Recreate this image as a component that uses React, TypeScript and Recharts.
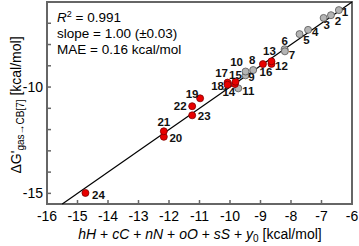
import {
  ReferenceArea,
  ReferenceLine,
  Scatter,
  ScatterChart,
  XAxis,
  YAxis,
} from "recharts";

// compound numbers, predicted (x) and measured (y) binding free energies
const compoundIds = [1, 2, 3, 4, 5, 6, 7, 8, 9, 10, 11, 12, 13, 14, 15, 16, 17, 18, 19, 20, 21, 22, 23, 24];
const predicted = [
  -6.43, -6.69, -6.93, -7.44, -7.72, -8.21, -8.2, -9.24, -9.49, -9.49, -9.73, -8.64,
  -8.64, -9.84, -9.82, -8.92, -10.08, -10.08, -10.98, -12.17, -12.17, -11.24, -11.24, -14.74,
];
const measured = [
  -6.38, -6.62, -6.75, -7.31, -7.51, -8.22, -8.32, -9.2, -9.45, -9.27, -10.06, -8.91,
  -8.79, -9.86, -9.75, -8.92, -9.79, -9.89, -10.53, -12.34, -12.08, -10.9, -11.33, -14.98,
];
const trainingSet = [1, 2, 3, 4, 5, 6, 7, 8, 9, 10, 11];

const fitX = [-15.5, -6];
const fitY = [-15.5, -6];

const xTicks = [-16, -15, -14, -13, -12, -11, -10, -9, -8, -7, -6];
const yTicks = [-15, -14, -13, -12, -11, -10, -9, -8, -7, -6];
const yLabeled = [-10, -15];

// where each number sits relative to its marker (px)
const labelOffset: Record<number, [number, number]> = {
  1: [6, 2], 2: [7, 6], 3: [3, 7], 4: [7, 2], 5: [7, 6], 6: [0, -8],
  7: [7, 4], 8: [-1, -10], 9: [6, 2], 10: [-9, -10], 11: [10, 3], 12: [10, 2],
  13: [-2, -10], 14: [-6, 8], 15: [0, -7], 16: [3, 8], 17: [-6, -10], 18: [-10, 1],
  19: [-8, -4], 20: [12, 1], 21: [0, -9], 22: [-12, 0], 23: [12, 1], 24: [13, 2],
};

const points = compoundIds.map((id, i) => ({ id, x: predicted[i], y: measured[i] }));
const grayPoints = points.filter((p) => trainingSet.includes(p.id));
const redPoints = points.filter((p) => !trainingSet.includes(p.id));

const FONT = "'Liberation Sans', Arial, sans-serif";
const FRAME = "#666";

function XTick({ x, y, payload }: any) {
  return (
    <g>
      <line x1={x} x2={x} y1={y} y2={y - 4} stroke={FRAME} strokeWidth={1.5} />
      <text x={x} y={y + 17} textAnchor="middle" fontSize={14} fontFamily={FONT} fill="#000">
        {payload.value}
      </text>
    </g>
  );
}

function YTick({ x, y, payload }: any) {
  return (
    <g>
      <line x1={x} x2={x + 4} y1={y} y2={y} stroke={FRAME} strokeWidth={1.5} />
      {yLabeled.includes(payload.value) && (
        <text x={x - 4} y={y + 5} textAnchor="end" fontSize={14} fontFamily={FONT} fill="#000">
          {payload.value}
        </text>
      )}
    </g>
  );
}

function marker(fill: string, stroke: string) {
  return (props: any) => {
    const { cx, cy, payload } = props;
    const [dx, dy] = labelOffset[payload.id] || [8, 0];
    return (
      <g>
        <circle cx={cx} cy={cy} r={3.5} fill={fill} stroke={stroke} strokeWidth={0.8} />
        <text
          x={cx + dx}
          y={cy + dy + 4}
          textAnchor="middle"
          fontSize={11.5}
          fontWeight="bold"
          fontFamily={FONT}
          fill="#111"
        >
          {payload.id}
        </text>
      </g>
    );
  };
}

export default function App() {
  return (
    <div style={{ position: "absolute", left: 0, top: 0, width: 359, height: 246, background: "#fff" }}>
      <ScatterChart width={359} height={246} margin={{ top: 2, right: 7, bottom: 0, left: 0 }}>
        <XAxis
          type="number"
          dataKey="x"
          domain={[-16, -6]}
          ticks={xTicks}
          interval={0}
          height={42}
          tickSize={0}
          tickMargin={0}
          axisLine={false}
          tick={<XTick />}
        />
        <YAxis
          type="number"
          dataKey="y"
          domain={[-15.5, -6]}
          ticks={yTicks}
          interval={0}
          width={47}
          tickSize={0}
          tickMargin={0}
          axisLine={false}
          tick={<YTick />}
        />
        <ReferenceArea x1={-16} x2={-6} y1={-15.5} y2={-6} fill="none" stroke={FRAME} strokeWidth={2} />
        <ReferenceLine
          segment={[
            { x: fitX[0], y: fitY[0] },
            { x: fitX[1], y: fitY[1] },
          ]}
          stroke="#000"
          strokeWidth={1.2}
        />
        <Scatter data={grayPoints} shape={marker("#b4b4b4", "#555")} isAnimationActive={false} />
        <Scatter data={redPoints} shape={marker("#e80000", "#800000")} isAnimationActive={false} />
      </ScatterChart>
      <svg
        width={359}
        height={246}
        style={{ position: "absolute", left: 0, top: 0, pointerEvents: "none" }}
        fontFamily={FONT}
      >
        <text x={57} y={22} fontSize={13.5}>
          <tspan fontStyle="italic">R</tspan>
          <tspan fontSize={9} dy={-5}>2</tspan>
          <tspan dy={5}> = 0.991</tspan>
        </text>
        <text x={57} y={38} fontSize={13.5}>slope = 1.00 (±0.03)</text>
        <text x={57} y={54} fontSize={13.5}>MAE = 0.16 kcal/mol</text>
        <text x={200} y={239} fontSize={14} textAnchor="middle">
          <tspan fontStyle="italic">hH</tspan> + <tspan fontStyle="italic">cC</tspan> +{" "}
          <tspan fontStyle="italic">nN</tspan> + <tspan fontStyle="italic">oO</tspan> +{" "}
          <tspan fontStyle="italic">sS</tspan> + <tspan fontStyle="italic">y</tspan>
          <tspan fontSize={10} dy={3}>0</tspan>
          <tspan dy={-3}> [kcal/mol]</tspan>
        </text>
        <text transform="translate(21,105) rotate(-90)" fontSize={14} textAnchor="middle">
          ΔG'
          <tspan fontSize={10} dy={3}>gas→CB[7]</tspan>
          <tspan dy={-3}> [kcal/mol]</tspan>
        </text>
      </svg>
    </div>
  );
}
